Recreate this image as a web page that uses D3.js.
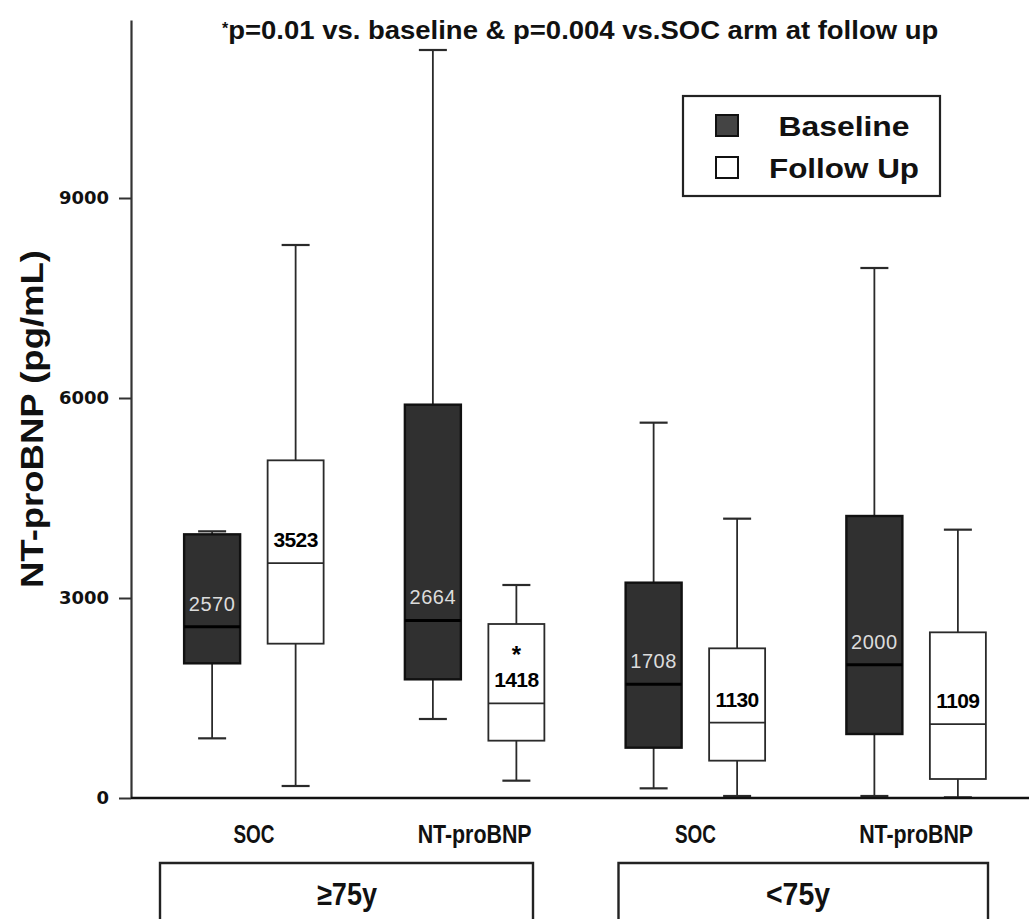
<!DOCTYPE html>
<html>
<head>
<meta charset="utf-8">
<script src="https://cdn.jsdelivr.net/npm/d3@7"></script>
<style>
  html, body { margin: 0; padding: 0; background: #fff; }
  svg { display: block; font-family: "Liberation Sans", Arial, sans-serif; }
</style>
</head>
<body>
<svg id="chart" width="1029" height="919"></svg>
<script>
// ---- data ----
const categories = ["SOC", "NT-proBNP", "SOC", "NT-proBNP"];
const categoryKeys = ["g1-SOC", "g1-NT", "g2-SOC", "g2-NT"];
const ageGroups = ["≥75y", "<75y"];
const seriesNames = ["Baseline", "Follow Up"];

const baselineLow    = [895, 1185, 145, 30];
const baselineQ1     = [2020, 1780, 755, 960];
const baselineMedian = [2570, 2664, 1708, 2000];
const baselineQ3     = [3955, 5900, 3230, 4230];
const baselineHigh   = [4000, 11220, 5630, 7950];

const followLow    = [180, 260, 30, 10];
const followQ1     = [2315, 860, 560, 285];
const followMedian = [3523, 1418, 1130, 1109];
const followQ3     = [5065, 2610, 2245, 2485];
const followHigh   = [8295, 3195, 4190, 4025];

const significant = [false, true, false, false]; // follow-up marked with *
const yTicks = [0, 3000, 6000, 9000];
const titleText = "p=0.01 vs. baseline & p=0.004 vs.SOC arm at follow up";

// ---- build ----
const svg = d3.select("#chart");
const y = d3.scaleLinear().domain([0, 11670]).range([798, 20]);
const x = d3.scaleBand().domain(categoryKeys).range([143.5, 1026.5]).padding(0);
const xs = d3.scalePoint().domain(seriesNames).range([-41.75, 41.75]);
const boxW = 56, capW = 28;

const boxes = [];
categoryKeys.forEach((k, i) => {
  boxes.push({cat: k, s: "Baseline", lo: baselineLow[i], q1: baselineQ1[i], med: baselineMedian[i], q3: baselineQ3[i], hi: baselineHigh[i], star: false});
  boxes.push({cat: k, s: "Follow Up", lo: followLow[i], q1: followQ1[i], med: followMedian[i], q3: followQ3[i], hi: followHigh[i], star: significant[i]});
});
const cx = d => x(d.cat) + x.bandwidth() / 2 + xs(d.s);

const g = svg.append("g");
boxes.forEach(d => {
  const c = cx(d);
  const dark = d.s === "Baseline";
  const wcol = "#2a2a2a";
  g.append("line").attr("x1", c).attr("x2", c).attr("y1", y(d.q3)).attr("y2", y(d.hi))
    .attr("stroke", wcol).attr("stroke-width", 1.8);
  g.append("line").attr("x1", c).attr("x2", c).attr("y1", y(d.q1)).attr("y2", y(d.lo))
    .attr("stroke", wcol).attr("stroke-width", 1.8);
  g.append("line").attr("x1", c - capW/2).attr("x2", c + capW/2).attr("y1", y(d.hi)).attr("y2", y(d.hi))
    .attr("stroke", wcol).attr("stroke-width", 2.2);
  g.append("line").attr("x1", c - capW/2).attr("x2", c + capW/2).attr("y1", y(d.lo)).attr("y2", y(d.lo))
    .attr("stroke", wcol).attr("stroke-width", 2.2);
  g.append("rect").attr("x", c - boxW/2).attr("y", y(d.q3)).attr("width", boxW)
    .attr("height", y(d.q1) - y(d.q3))
    .attr("fill", dark ? "#303030" : "#ffffff")
    .attr("stroke", dark ? "#111" : "#2a2a2a").attr("stroke-width", dark ? 2.4 : 1.8);
  g.append("line").attr("x1", c - boxW/2).attr("x2", c + boxW/2).attr("y1", y(d.med)).attr("y2", y(d.med))
    .attr("stroke", dark ? "#000" : "#2a2a2a").attr("stroke-width", dark ? 3 : 1.8);
  g.append("text").attr("x", c).attr("y", y(d.med) - 16)
    .attr("text-anchor", "middle")
    .attr("font-size", dark ? 20 : 21)
    .attr("font-weight", dark ? "normal" : "bold")
    .attr("fill", dark ? "#dcdcdc" : "#000")
    .attr("letter-spacing", dark ? 0.6 : -0.6)
    .text(d.med);
  if (d.star) {
    g.append("text").attr("x", c).attr("y", y(d.med) - 40)
      .attr("text-anchor", "middle").attr("font-size", 24).attr("font-weight", "bold")
      .attr("fill", "#000").text("*");
  }
});

// y axis
const yAxis = svg.append("g").attr("transform", "translate(131,0)")
  .call(d3.axisLeft(y).tickValues(yTicks).tickFormat(d3.format("d"))
    .tickSize(12).tickSizeOuter(0).tickPadding(10));
yAxis.select(".domain").attr("stroke", "#333").attr("stroke-width", 2.2);
yAxis.selectAll(".tick line").attr("stroke", "#333").attr("stroke-width", 2);
yAxis.selectAll(".tick text").attr("font-family", "DejaVu Sans, sans-serif")
  .attr("font-weight", "bold").attr("font-size", 18).attr("fill", "#111");

// x axis line
svg.append("line").attr("x1", 131).attr("x2", 1029).attr("y1", y(0)).attr("y2", y(0))
  .attr("stroke", "#111").attr("stroke-width", 2.6);

// category labels
categoryKeys.forEach((k, i) => {
  svg.append("text").attr("x", x(k) + x.bandwidth()/2).attr("y", 843)
    .attr("text-anchor", "middle").attr("font-size", 25).attr("font-weight", "bold")
    .attr("fill", "#111")
    .attr("textLength", categories[i] === "SOC" ? 41 : 114).attr("lengthAdjust", "spacingAndGlyphs")
    .text(categories[i]);
});

// age group boxes
const groupSpans = [[categoryKeys[0], categoryKeys[1]], [categoryKeys[2], categoryKeys[3]]];
ageGroups.forEach((a, i) => {
  const x0 = x(groupSpans[i][0]) + 16.5 - (i === 0 ? 0 : -17);
  const x1 = x(groupSpans[i][1]) + x.bandwidth() - (i === 0 ? 52 : 38.5);
  svg.append("path")
    .attr("d", `M${x0},925 V863 H${x1} V925`)
    .attr("fill", "none").attr("stroke", "#222").attr("stroke-width", 2.4);
  svg.append("text").attr("x", i === 0 ? 347 : 798).attr("y", 905)
    .attr("text-anchor", "middle").attr("font-size", 31).attr("font-weight", "bold")
    .attr("fill", "#111").attr("textLength", i === 0 ? 60 : 64).attr("lengthAdjust", "spacingAndGlyphs")
    .text(a);
});

// y label
svg.append("text")
  .attr("transform", "translate(43,419) rotate(-90)")
  .attr("text-anchor", "middle").attr("font-size", 31).attr("font-weight", "bold")
  .attr("fill", "#111").attr("textLength", 338).attr("lengthAdjust", "spacingAndGlyphs")
  .text("NT-proBNP (pg/mL)");

// title
const t = svg.append("text").attr("x", 222).attr("y", 39)
  .attr("font-size", 26).attr("font-weight", "bold").attr("fill", "#111");
t.append("tspan").attr("font-size", 16).attr("dy", -5).text("*");
t.append("tspan").attr("dy", 5).attr("textLength", 710).attr("lengthAdjust", "spacingAndGlyphs").text(titleText);

// legend
const lg = svg.append("g");
lg.append("rect").attr("x", 683).attr("y", 96).attr("width", 257).attr("height", 100)
  .attr("fill", "#fff").attr("stroke", "#222").attr("stroke-width", 2.2);
seriesNames.forEach((s, i) => {
  const yy = 126 + i * 42;
  lg.append("rect").attr("x", 716).attr("y", yy - 11).attr("width", 22).attr("height", 21)
    .attr("fill", i === 0 ? "#444" : "#fff").attr("stroke", "#111").attr("stroke-width", 2);
  lg.append("text").attr("x", 844).attr("y", yy + 10).attr("text-anchor", "middle")
    .attr("font-size", 28).attr("font-weight", "bold").attr("fill", "#111")
    .attr("textLength", i === 0 ? 131 : 150).attr("lengthAdjust", "spacingAndGlyphs")
    .text(s);
});
</script>
</body>
</html>
